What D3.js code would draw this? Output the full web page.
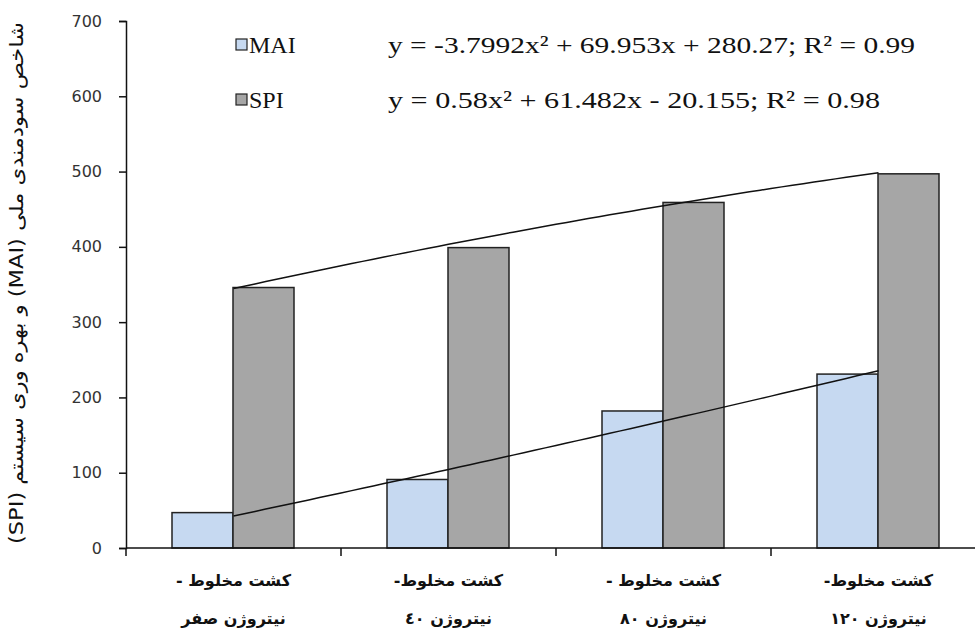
<!DOCTYPE html>
<html>
<head>
<meta charset="utf-8">
<script src="https://cdn.jsdelivr.net/npm/d3@7"></script>
<style>
  body { margin: 0; background: #fff; }
  svg { display: block; }
</style>
</head>
<body>
<svg id="chart" width="975" height="632"></svg>
<script>
const categoriesLine1 = ["کشت مخلوط -", "کشت مخلوط-", "کشت مخلوط -", "کشت مخلوط-"];
const categoriesLine2 = ["نیتروژن صفر", "نیتروژن ٤٠", "نیتروژن ٨٠", "نیتروژن ١٢٠"];
const categories = ["c1", "c2", "c3", "c4"];
const seriesNames = ["MAI", "SPI"];
const maiValues = [47, 91, 182, 231];
const spiValues = [346, 399, 459, 497];
const yTicks = [0, 100, 200, 300, 400, 500, 600, 700];
const equations = ["y = -3.7992x² + 69.953x + 280.27; R² = 0.99", "y = 0.58x² + 61.482x - 20.155; R² = 0.98"];
const yTitle = "شاخص سودمندی ملی (MAI) و بهره وری سیستم (SPI)";

const colors = { MAI: "#c6d9f1", SPI: "#a6a6a6" };
const series = { MAI: maiValues, SPI: spiValues };

const svg = d3.select("#chart");
const x = d3.scaleBand().domain(categories).range([126, 986]).paddingInner(0).paddingOuter(0);
const xs = d3.scaleBand().domain(seriesNames).range([46, 215 - 47]);
const y = d3.scaleLinear().domain([0, 700]).range([548, 21]);

// bars
seriesNames.forEach(s => {
  svg.append("g").selectAll("rect").data(series[s]).join("rect")
    .attr("x", (d, i) => x(categories[i]) + xs(s))
    .attr("y", d => y(d))
    .attr("width", xs.bandwidth())
    .attr("height", d => y(0) - y(d))
    .attr("fill", colors[s])
    .attr("stroke", "#222")
    .attr("stroke-width", 1.5);
});

// quadratic least-squares trendlines (Excel-style polynomial order 2)
function quadFit(vals) {
  const xsN = vals.map((_, i) => i + 1);
  let S = [0,0,0,0,0], T = [0,0,0];
  xsN.forEach((xi, i) => {
    for (let k = 0; k <= 4; k++) S[k] += Math.pow(xi, k);
    for (let k = 0; k <= 2; k++) T[k] += Math.pow(xi, k) * vals[i];
  });
  const A = [[S[0],S[1],S[2],T[0]],[S[1],S[2],S[3],T[1]],[S[2],S[3],S[4],T[2]]];
  for (let i = 0; i < 3; i++) {
    for (let j = i + 1; j < 3; j++) {
      const f = A[j][i] / A[i][i];
      for (let k = i; k < 4; k++) A[j][k] -= f * A[i][k];
    }
  }
  const c = [0,0,0];
  for (let i = 2; i >= 0; i--) {
    let s = A[i][3];
    for (let k = i + 1; k < 3; k++) s -= A[i][k] * c[k];
    c[i] = s / A[i][i];
  }
  return t => c[0] + c[1] * t + c[2] * t * t;
}
const xCenter = t => x(categories[0]) + x.bandwidth() / 2 + (t - 1) * x.step();
seriesNames.forEach(s => {
  const f = quadFit(series[s]);
  const pts = d3.range(1, 4.001, 0.05).map(t => [xCenter(t), y(f(t))]);
  svg.append("path").attr("d", d3.line()(pts))
    .attr("fill", "none").attr("stroke", "#111").attr("stroke-width", 1.5);
});

// y axis
const yAxis = d3.axisLeft(y).tickValues(yTicks).tickSize(7).tickPadding(17);
const gy = svg.append("g").attr("transform", "translate(126,0)").call(yAxis);
gy.select(".domain").attr("stroke", "#111").attr("stroke-width", 1.5);
gy.selectAll(".tick line").attr("stroke", "#111").attr("stroke-width", 1.5);
gy.selectAll(".tick text").attr("font-family", "DejaVu Sans").attr("font-size", 16).attr("fill", "#333");

// x axis
const xBoundaries = categories.map(c => x(c));
svg.append("line").attr("x1", 126).attr("x2", 975).attr("y1", y(0)).attr("y2", y(0))
  .attr("stroke", "#111").attr("stroke-width", 1.5);
svg.append("g").selectAll("line").data(xBoundaries).join("line")
  .attr("x1", d => d).attr("x2", d => d).attr("y1", y(0)).attr("y2", y(0) + 8)
  .attr("stroke", "#111").attr("stroke-width", 1.5);

const xl = svg.append("g");
categories.forEach((c, i) => {
  const cx = x(c) + x.bandwidth() / 2;
  xl.append("text").attr("x", cx).attr("y", 586).attr("text-anchor", "middle")
    .attr("direction", "rtl")
    .attr("font-family", "DejaVu Sans").attr("font-weight", "bold").attr("font-size", 16)
    .attr("fill", "#111").text(categoriesLine1[i]);
  xl.append("text").attr("x", cx).attr("y", 624).attr("text-anchor", "middle")
    .attr("direction", "rtl")
    .attr("font-family", "DejaVu Sans").attr("font-weight", "bold").attr("font-size", 16)
    .attr("fill", "#111").text(categoriesLine2[i]);
});

// y title
svg.append("text")
  .attr("transform", "translate(23,283) rotate(-90)")
  .attr("text-anchor", "middle").attr("direction", "rtl")
  .attr("font-family", "DejaVu Sans").attr("font-size", 19).attr("fill", "#111")
  .attr("textLength", 522).attr("lengthAdjust", "spacingAndGlyphs")
  .text(yTitle);

// legend
const legY = [45, 100];
const eqLen = [527, 492];
seriesNames.forEach((s, i) => {
  svg.append("rect").attr("x", 236).attr("y", legY[i] - 6).attr("width", 11).attr("height", 11)
    .attr("fill", colors[s]).attr("stroke", "#222").attr("stroke-width", 1.2);
  svg.append("text").attr("x", 249).attr("y", legY[i] + 8)
    .attr("font-family", "Liberation Serif").attr("font-size", 24).attr("fill", "#111").text(s);
  svg.append("text").attr("x", 388).attr("y", legY[i] + 8)
    .attr("font-family", "Liberation Serif").attr("font-size", 24).attr("fill", "#111")
    .attr("textLength", eqLen[i]).attr("lengthAdjust", "spacingAndGlyphs")
    .text(equations[i]);
});
</script>
</body>
</html>
